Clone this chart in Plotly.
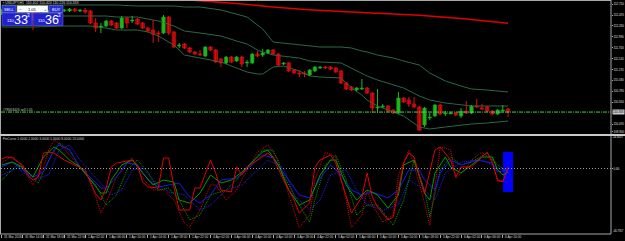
import plotly.graph_objects as go

# ---------------- price data (USDJPY, H1) ----------------
bar_idx = list(range(98))
opens = [112.492, 112.558, 112.514, 112.470, 112.536, 112.448, 112.514, 112.360, 112.492, 112.426,
         112.536, 112.514, 112.558, 112.558, 112.602, 112.558, 112.580, 112.558, 112.294, 112.206,
         112.228, 112.338, 112.294, 112.184, 112.404, 112.338, 112.382, 112.294, 112.184, 112.140,
         112.074, 112.074, 112.426, 112.096, 111.788, 111.832, 111.744, 111.656, 111.612, 111.568,
         111.766, 111.700, 111.502, 111.414, 111.546, 111.458, 111.546, 111.414, 111.414, 111.612,
         111.590, 111.634, 111.700, 111.612, 111.392, 111.414, 111.260, 111.194, 111.194, 111.150,
         111.238, 111.304, 111.326, 111.326, 111.304, 111.238, 110.974, 110.886, 110.820, 110.842,
         110.864, 110.754, 110.424, 110.446, 110.468, 110.380, 110.314, 110.644, 110.600, 110.512,
         110.446, 110.050, 110.204, 110.248, 110.490, 110.292, 110.292, 110.314, 110.248, 110.358,
         110.314, 110.468, 110.424, 110.446, 110.358, 110.292, 110.358, 110.402]
highs = [112.602, 112.580, 112.536, 112.558, 112.558, 112.536, 112.536, 112.514, 112.536, 112.580,
         112.580, 112.624, 112.602, 112.624, 112.624, 112.602, 112.624, 112.580, 112.404, 112.294,
         112.360, 112.360, 112.316, 112.448, 112.426, 112.448, 112.404, 112.316, 112.206, 112.360,
         112.118, 112.470, 112.448, 112.118, 111.854, 111.854, 111.766, 111.678, 111.700, 111.788,
         111.788, 111.722, 111.524, 111.568, 111.568, 111.568, 111.568, 111.480, 111.634, 111.678,
         111.722, 111.722, 111.722, 111.634, 111.436, 111.436, 111.282, 111.260, 111.238, 111.282,
         111.348, 111.348, 111.348, 111.348, 111.326, 111.260, 110.996, 110.908, 110.886, 111.062,
         110.886, 110.776, 110.842, 110.512, 110.490, 110.402, 110.776, 110.666, 110.666, 110.666,
         110.468, 110.446, 110.314, 110.512, 110.512, 110.358, 110.336, 110.336, 110.424, 110.578,
         110.490, 110.622, 110.512, 110.468, 110.380, 110.402, 110.490, 110.424]
lows = [112.470, 112.492, 112.426, 112.448, 112.404, 112.426, 112.140, 112.338, 112.404, 112.404,
        112.470, 112.492, 112.536, 112.536, 112.536, 112.536, 112.492, 112.272, 112.096, 112.074,
        112.206, 112.228, 112.162, 112.162, 112.184, 112.294, 112.250, 112.162, 112.096, 111.854,
        111.876, 112.052, 112.030, 111.744, 111.744, 111.722, 111.634, 111.590, 111.568, 111.546,
        111.678, 111.414, 111.326, 111.392, 111.414, 111.436, 111.326, 111.326, 111.392, 111.546,
        111.546, 111.612, 111.590, 111.348, 111.370, 111.216, 111.172, 111.106, 111.106, 111.128,
        111.216, 111.282, 111.282, 111.260, 111.194, 110.952, 110.820, 110.798, 110.798, 110.820,
        110.732, 110.314, 110.314, 110.424, 110.336, 110.292, 110.292, 110.534, 110.446, 110.424,
        109.918, 110.006, 110.160, 110.226, 110.270, 110.248, 110.292, 110.248, 110.204, 110.292,
        110.292, 110.424, 110.380, 110.336, 110.270, 110.270, 110.314, 110.226]
closes = [112.558, 112.514, 112.470, 112.536, 112.448, 112.514, 112.360, 112.492, 112.426, 112.536,
          112.514, 112.580, 112.580, 112.602, 112.558, 112.580, 112.536, 112.294, 112.184, 112.228,
          112.338, 112.250, 112.184, 112.404, 112.294, 112.360, 112.272, 112.184, 112.118, 112.052,
          112.052, 112.426, 112.074, 111.766, 111.810, 111.744, 111.656, 111.612, 111.590, 111.766,
          111.700, 111.436, 111.414, 111.546, 111.436, 111.546, 111.392, 111.436, 111.612, 111.568,
          111.634, 111.700, 111.612, 111.370, 111.414, 111.238, 111.194, 111.172, 111.172, 111.260,
          111.326, 111.326, 111.304, 111.282, 111.216, 110.974, 110.842, 110.820, 110.864, 110.864,
          110.754, 110.424, 110.446, 110.468, 110.358, 110.314, 110.644, 110.556, 110.512, 110.446,
          109.940, 110.424, 110.226, 110.490, 110.292, 110.314, 110.314, 110.270, 110.358, 110.314,
          110.468, 110.446, 110.402, 110.358, 110.292, 110.380, 110.380, 110.333]

# Bollinger bands (read at selected bars)
bb_idx = [0, 6, 12, 17, 20, 22, 26, 28, 30, 33, 35, 38, 42, 45, 47, 49, 50, 52, 54, 57, 59, 61,
          65, 67, 69, 70, 72, 75, 77, 80, 82, 85, 88, 90, 93, 97]
bb_upper = [112.690, 112.690, 112.690, 112.690, 112.690, 112.690, 112.668, 112.668, 112.668, 112.668,
            112.646, 112.646, 112.580, 112.492, 112.426, 112.250, 112.162, 111.876, 111.854, 111.810,
            111.788, 111.766, 111.766, 111.744, 111.678, 111.656, 111.590, 111.524, 111.458, 111.370,
            111.194, 111.018, 110.908, 110.842, 110.820, 110.776]
bb_middle = [112.448, 112.448, 112.448, 112.448, 112.448, 112.426, 112.426, 112.382, 112.338, 112.228,
             112.118, 112.074, 112.008, 111.898, 111.832, 111.700, 111.656, 111.590, 111.568, 111.524,
             111.458, 111.436, 111.414, 111.304, 111.194, 111.128, 111.040, 110.930, 110.864, 110.688,
             110.600, 110.534, 110.490, 110.468, 110.468, 110.468]
bb_lower = [112.206, 112.206, 112.228, 112.228, 112.184, 112.140, 112.140, 112.096, 112.008, 111.810,
            111.590, 111.524, 111.436, 111.304, 111.216, 111.172, 111.172, 111.326, 111.348, 111.238,
            111.128, 111.106, 111.084, 110.864, 110.710, 110.600, 110.468, 110.336, 110.248, 110.006,
            109.962, 110.006, 110.050, 110.072, 110.094, 110.138]

# slow moving average (red)
ma_idx = [37, 45, 52, 58, 65, 72, 80, 88, 97]
ma_vals = [112.790, 112.723, 112.646, 112.591, 112.547, 112.503, 112.466, 112.393, 112.287]

order_price = 110.335
bid_price = 110.333
order_text = "#78563426 sell 1.05"
lot_text = "1.05"

price_ticks = [112.710, 112.470, 112.230, 111.990, 111.750, 111.510, 111.270, 111.030,
               110.790, 110.550, 110.070, 109.900]

time_tick_idx = [0, 4, 8, 12, 16, 20, 24, 28, 32, 36, 40, 44, 48, 52, 56, 60, 64, 68, 72, 76,
                 80, 84, 88, 92, 96]
time_tick_labels = ["31 Mar 2016", "31 Mar 14:00", "31 Mar 18:00", "31 Mar 22:00", "1 Apr 02:00",
                    "1 Apr 06:00", "1 Apr 10:00", "1 Apr 14:00", "1 Apr 18:00", "1 Apr 22:00",
                    "4 Apr 02:00", "4 Apr 06:00", "4 Apr 10:00", "4 Apr 14:00", "4 Apr 18:00",
                    "4 Apr 22:00", "5 Apr 02:00", "5 Apr 06:00", "5 Apr 10:00", "5 Apr 14:00",
                    "5 Apr 18:00", "5 Apr 22:00", "6 Apr 02:00", "6 Apr 06:00", "6 Apr 10:00"]

# ---------------- oscillator sub-window ----------------
red_solid_idx = [0, 1, 2, 4, 5, 6, 7, 8, 9, 10, 12, 14, 16, 17, 18, 19, 20, 21, 22, 23, 25, 26, 27, 28,
                 30, 31, 32, 33, 34, 36, 37, 38, 40, 41, 42, 44, 45, 46, 47, 49, 51, 52, 54, 56, 57, 59,
                 60, 61, 63, 64, 66, 67, 69, 70, 71, 72, 74, 75, 77, 78, 79, 81, 83, 84, 86, 87, 88, 90,
                 92, 93, 94, 95, 96, 97]
red_solid_val = [7.5, 9.1, 8.3, 2.8, -5.1, -9.1, -6.7, 12.2, 13.0, 12.2, 6.7, 2.8, -1.2, -11.5, -20.0,
                 -24.9, -15.4, 1.2, 4.3, 5.1, 6.7, 2.8, -10.7, -14.6, -15.4, 8.3, 8.3, -14.6, -32.8,
                 -32.8, -15.4, -15.4, 6.7, -3.6, -17.0, -18.6, 1.2, -5.1, 1.2, 6.7, 12.2, 8.3, -9.1,
                 -24.9, -35.2, -27.3, 1.2, 6.7, 10.7, 4.3, -22.5, -35.2, -22.5, -3.6, -22.5, -30.4,
                 -40.7, -38.3, 4.3, 12.2, 9.1, -20.0, 14.6, 17.0, 6.7, -6.7, 1.2, 1.2, 9.1, 13.0, 4.3,
                 -9.1, -10.7, 1.2]
red_dot_idx = [0, 2, 4, 6, 8, 9, 10, 11, 13, 15, 17, 19, 20, 22, 24, 25, 27, 29, 31, 33, 35, 36, 38,
               40, 41, 43, 45, 47, 49, 51, 53, 55, 57, 59, 60, 62, 64, 66, 67, 69, 70, 71, 73, 75, 76,
               78, 79, 81, 82, 83, 84, 86, 87, 89, 90, 92, 94, 95, 96, 97]
red_dot_val = [4.3, 9.9, 1.2, -13.0, 1.2, 14.6, 22.5, 20.1, 10.7, 0.4, -9.1, -35.2, -27.3, -6.7, 4.3,
               8.3, -7.5, -17.0, -17.0, -24.9, -43.1, -46.2, -32.8, -13.0, -13.0, -24.9, -17.0, -1.2,
               13.0, 18.6, 6.7, -20.9, -46.5, -36.7, -9.1, 13.0, 9.1, -24.9, -46.5, -36.7, -17.0,
               -28.8, -42.3, -36.7, -5.1, 14.6, 2.8, -27.3, -44.7, -14.6, 17.0, 14.6, -7.5, 0.4, 6.7,
               13.0, 6.7, -10.7, -9.1, -11.5]
green_solid_idx = [0, 2, 4, 6, 8, 10, 11, 13, 15, 17, 18, 19, 20, 21, 23, 25, 27, 29, 31, 33, 34, 36,
                   38, 40, 42, 44, 46, 48, 50, 51, 53, 55, 57, 59, 61, 63, 64, 66, 68, 70, 72, 74, 76,
                   77, 79, 81, 82, 83, 85, 86, 88, 90, 92, 94, 95, 96, 97]
green_solid_val = [2.8, 5.1, 1.2, -6.7, 9.1, 17.0, 14.6, 6.7, 1.2, -9.1, -15.0, -19.4, -19.4, -9.1,
                   2.8, 6.7, -3.6, -13.0, -9.1, -10.7, -24.9, -27.3, -19.4, -5.1, -11.5, -9.1, -2.8,
                   5.1, 13.0, 14.6, 2.8, -17.0, -28.8, -24.9, -5.1, 6.7, 6.7, -13.0, -24.9, -17.0,
                   -20.9, -31.2, -20.9, 2.8, 6.7, -19.4, -24.9, -3.6, 9.1, 1.2, -3.6, 2.8, 9.1, 9.1,
                   -1.2, -5.1, -2.8]
green_dot_idx = [0, 3, 5, 7, 9, 11, 13, 15, 18, 20, 22, 24, 26, 28, 30, 32, 34, 36, 38, 40, 43, 45,
                 48, 50, 52, 54, 57, 59, 60, 62, 64, 66, 68, 70, 72, 75, 77, 79, 81, 82, 84, 86, 88,
                 90, 93, 95, 97]
green_dot_val = [-9.1, 2.8, -2.8, -11.5, 6.7, 20.1, 14.6, 0.4, -13.0, -28.8, -20.9, -1.2, 6.7, -2.8,
                 -17.0, -15.4, -24.9, -40.7, -36.7, -20.9, -17.0, -9.1, 5.1, 14.6, 14.6, -5.1, -28.8,
                 -42.3, -24.9, 2.8, 10.7, -9.1, -36.7, -28.8, -28.8, -44.7, -24.9, 6.7, -17.0, -38.3,
                 -1.2, 9.1, 2.8, 5.1, 12.2, 2.8, -2.8]
blue_solid_idx = [0, 2, 4, 6, 8, 10, 11, 13, 15, 17, 19, 20, 22, 24, 26, 28, 30, 32, 34, 36, 38, 40,
                  42, 45, 48, 50, 52, 55, 57, 59, 61, 63, 65, 67, 69, 71, 74, 76, 78, 80, 81, 83, 84,
                  86, 88, 91, 94, 95, 97]
blue_solid_val = [1.2, 5.1, -1.2, -6.7, -2.8, 14.6, 18.6, 14.6, 1.2, -6.7, -15.4, -15.4, -6.7, 4.3,
                  2.8, -9.1, -14.6, -13.0, -11.5, -22.5, -27.3, -20.9, -9.1, -7.5, 2.8, 10.7, 8.3,
                  -9.1, -20.9, -23.3, -7.5, 2.8, -5.1, -17.0, -20.9, -18.6, -23.3, -17.0, -1.2, -1.2,
                  -9.1, -17.0, -3.6, 6.7, 2.8, 6.7, 4.3, -2.8, -1.2]
blue_dot_idx = [0, 3, 6, 9, 11, 13, 15, 18, 21, 23, 25, 27, 30, 32, 35, 38, 40, 43, 46, 49, 51, 54,
                56, 59, 61, 63, 66, 68, 70, 73, 76, 78, 81, 83, 85, 88, 92, 96, 97]
blue_dot_val = [-5.1, 0.4, -9.1, -5.1, 14.6, 18.6, 6.7, -7.5, -20.9, -17.0, -1.2, 0.4, -13.0, -18.6,
                -20.9, -32.8, -28.8, -17.0, -13.0, -1.2, 6.7, 0.4, -20.9, -32.8, -24.9, -5.1, -1.2,
                -17.0, -28.8, -32.8, -28.8, -9.1, -17.0, -24.9, -3.6, 5.1, 6.7, -1.2, 0.4]
signal_idx = 97
signal_top = 13.0
signal_bottom = -18.6
osc_max_label = "24.8017"
osc_min_label = "-46.7917"
osc_title = "FinCurve 1.0000 2.0000 3.0000 5.0000 8.0000 13.0000"

# ---------------- geometry ----------------
W, H = 625, 241
ML, MR, MT, MBt = 1, 14, 1, 7
PW = W - ML - MR
PH = H - MT - MBt


def fx(x):
    return (x - ML) / PW


def fy(y):
    return (H - MBt - y) / PH


BAR_PX = 5.22
x_lo = -(1.7 - ML) / BAR_PX
x_hi = x_lo + PW / BAR_PX
FONT = "Liberation Sans"
GRAY = "#A8A8A8"
TICK_FS = 2.9

fig = go.Figure()

# Bollinger bands
for band in (bb_upper, bb_middle, bb_lower):
    fig.add_trace(go.Scatter(x=bb_idx, y=band, mode="lines",
                             line=dict(color="#2A6844", width=1), hoverinfo="skip"))
# red MA
fig.add_trace(go.Scatter(x=ma_idx, y=ma_vals, mode="lines",
                         line=dict(color="#E00000", width=1.6), hoverinfo="skip"))

# candle bodies
up = [c >= o for o, c in zip(opens, closes)]
body_base = [min(o, c) for o, c in zip(opens, closes)]
body_h = [max(abs(c - o), 0.02) for o, c in zip(opens, closes)]
fill = ["#1DB81D" if u else "#A80000" for u in up]
edge = ["#129012" if u else "#E81010" for u in up]
fig.add_trace(go.Bar(x=bar_idx, y=body_h, base=body_base, width=0.68,
                     marker=dict(color=fill, line=dict(color=edge, width=0.6)),
                     hoverinfo="skip"))
for flag, col in ((True, "#1DB81D"), (False, "#E01010")):
    xs, ys = [], []
    for i, h, l, u in zip(bar_idx, highs, lows, up):
        if u == flag:
            xs += [i, i, None]
            ys += [l, h, None]
    fig.add_trace(go.Scatter(x=xs, y=ys, mode="lines", line=dict(color=col, width=1),
                             hoverinfo="skip"))

# oscillators
osc_series = [
    (red_dot_idx, red_dot_val, "#E00000", "1px,1px"),
    (green_dot_idx, green_dot_val, "#00A000", "1px,1px"),
    (blue_dot_idx, blue_dot_val, "#2020FF", "1px,1px"),
    (blue_solid_idx, blue_solid_val, "#1818E8", "solid"),
    (green_solid_idx, green_solid_val, "#009A00", "solid"),
    (red_solid_idx, red_solid_val, "#E00000", "solid"),
]
for xi, yv, col, dash in osc_series:
    fig.add_trace(go.Scatter(x=xi, y=yv, mode="lines", yaxis="y2",
                             line=dict(color=col, width=1, dash=dash), hoverinfo="skip"))
fig.add_trace(go.Bar(x=[signal_idx], y=[signal_top - signal_bottom], base=[signal_bottom],
                     width=1.9, yaxis="y2", marker=dict(color="#0000FF", line=dict(width=0)),
                     hoverinfo="skip"))

axis_common = dict(showgrid=False, zeroline=False, automargin=False, showline=False)
fig.update_layout(
    width=W, height=H, margin=dict(l=ML, r=MR, t=MT, b=MBt, pad=0),
    paper_bgcolor="black", plot_bgcolor="black", showlegend=False,
    barmode="overlay", template="none",
    font=dict(family=FONT, color="#D8D8D8", size=4),
    xaxis=dict(domain=[0, 1], range=[x_lo, x_hi], anchor="y2", tickvals=time_tick_idx,
               showticklabels=False, ticks="outside", ticklen=3, tickwidth=1, tickcolor=GRAY,
               **axis_common),
    yaxis=dict(domain=[fy(134), 1], range=[109.852, 112.778], side="right", anchor="x",
               tickvals=price_ticks, ticktext=[f"{v:.3f}" for v in price_ticks],
               ticks="outside", ticklen=1, tickwidth=1, tickcolor=GRAY, ticklabelstandoff=0,
               tickfont=dict(size=TICK_FS, color="#E0E0E0", family=FONT), **axis_common),
    yaxis2=dict(domain=[0, fy(136)], range=[-51.745, 25.675], side="right", anchor="x",
                tickvals=[0], ticktext=["0.00"], ticks="outside", ticklen=1, tickwidth=1,
                ticklabelstandoff=0,
                tickcolor=GRAY, tickfont=dict(size=TICK_FS, color="#E0E0E0", family=FONT),
                **axis_common),
)

shapes = []
# order line
shapes.append(dict(type="line", xref="paper", yref="y", x0=0, x1=1, y0=order_price, y1=order_price,
                   line=dict(color="#48D048", width=1, dash="4px,1px,1px,1px")))
# zero line in oscillator window
shapes.append(dict(type="line", xref="paper", yref="y2", x0=0, x1=1, y0=0, y1=0,
                   line=dict(color="#9A9A9A", width=1, dash="1px,2px")))


def pline(x0, y0, x1, y1, col=GRAY, w=1):
    shapes.append(dict(type="line", xref="paper", yref="paper", x0=fx(x0), x1=fx(x1),
                       y0=fy(y0), y1=fy(y1), line=dict(color=col, width=w)))


pline(0.5, 0, 0.5, 234)
pline(0, 0.5, 611, 0.5)
pline(611, 0, 611, 234)
pline(0, 234, 611, 234)
pline(0, 135, 625, 135, "#C8C8C8", 2)


def prect(x0, y0, x1, y1, fillc, linec):
    shapes.append(dict(type="rect", xref="paper", yref="paper", x0=fx(x0), x1=fx(x1),
                       y0=fy(y1), y1=fy(y0), fillcolor=fillc, line=dict(color=linec, width=0.6),
                       layer="above"))


# one-click trading panel
prect(2, 5.5, 16, 12.5, "#2630D4", "#6C74F2")
prect(17, 5.5, 48, 12.5, "#FFFFFF", "#909090")
prect(49, 5.5, 63, 12.5, "#2630D4", "#6C74F2")
prect(2, 13, 32, 25.5, "#2222CC", "#5A62EE")
prect(33, 13, 63, 25.5, "#2222CC", "#5A62EE")
fig.update_layout(shapes=shapes)

ann = []


def ptext(x, y, text, size, color="#FFFFFF", xanchor="center", yanchor="middle", bg=None):
    d = dict(xref="paper", yref="paper", x=fx(x), y=fy(y), text=text, showarrow=False,
             xanchor=xanchor, yanchor=yanchor, font=dict(size=size, color=color, family=FONT),
             borderpad=0)
    if bg:
        d["bgcolor"] = bg
    ann.append(d)


hdr = (f"\u25aa USDJPY,H1  {opens[-1]:.3f} {highs[-1]:.3f} {lows[-1]:.3f} {closes[-1]:.3f}")
ptext(2, 2.6, hdr, 3.5, "#D8D8D8", xanchor="left")
ptext(9, 9, "SELL", 4)
ptext(56, 9, "BUY", 4)
ptext(20.5, 9, "\u2212", 4, "#000000")
ptext(32.5, 9, lot_text, 4, "#000000")
ptext(45, 9, "+", 4, "#000000")
bid_s, ask_s = f"{bid_price:.3f}", f"{bid_price + 0.030:.3f}"
ptext(10.5, 21, bid_s[:3], 4.2)
ptext(21, 19.5, bid_s[4:6], 12.5)
ptext(28.3, 15.6, bid_s[6:], 4.5)
ptext(41.5, 21, ask_s[:3], 4.2)
ptext(52, 19.5, ask_s[4:6], 12.5)
ptext(59.3, 15.6, ask_s[6:], 4.5)

ptext(2, 109.6, order_text, 3.3, "#C8C8C8", xanchor="left")
ptext(2, 138.6, osc_title, 3.3, "#D0D0D0", xanchor="left")
ptext(611.5, 112.2, f"{bid_price:.3f}", TICK_FS, "#000000", xanchor="left", bg="#C8C8C8")
ptext(612, 137.0, osc_max_label, 2.8, "#E0E0E0", xanchor="left")
ptext(611.5, 231.4, osc_min_label, 2.6, "#E0E0E0", xanchor="left")

for i, lab in zip(time_tick_idx, time_tick_labels):
    ann.append(dict(xref="x", yref="paper", x=i, y=fy(236.8), text=lab, showarrow=False,
                    xanchor="left", yanchor="middle", xshift=0.5,
                    font=dict(size=3.2, color="#D8D8D8", family=FONT)))
fig.update_layout(annotations=ann)

fig.write_html("out.html")
